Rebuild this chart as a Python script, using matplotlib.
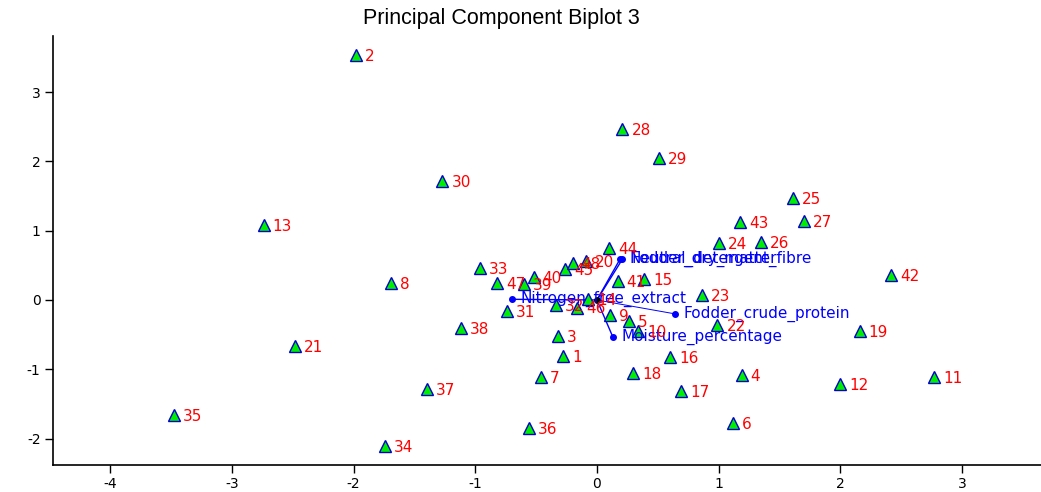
import matplotlib
matplotlib.use('Agg')
import matplotlib.pyplot as plt

plt.rcParams['font.family'] = ['DejaVu Sans']
plt.rcParams['axes.unicode_minus'] = False

# observation scores (PC1, PC2)
obs_labels = [str(i) for i in range(1, 49)]
obs_x = [-0.28, -1.98, -0.32, 1.19, 0.26, 1.12, -0.46, -1.69, 0.11, 0.34,
         2.77, 2.00, -2.74, -0.07, 0.39, 0.60, 0.69, 0.30, 2.16, -0.09,
         -2.48, 0.99, 0.86, 1.00, 1.61, 1.35, 1.70, 0.21, 0.51, -1.27,
         -0.74, -0.34, -0.96, -1.74, -3.48, -0.56, -1.40, -1.12, -0.60, -0.52,
         0.17, 2.42, 1.18, 0.10, -0.26, -0.16, -0.82, -0.20]
obs_y = [-0.81, 3.54, -0.52, -1.08, -0.30, -1.78, -1.11, 0.25, -0.22, -0.45,
         -1.11, -1.21, 1.08, 0.01, 0.30, -0.82, -1.31, -1.05, -0.45, 0.56,
         -0.66, -0.36, 0.07, 0.82, 1.47, 0.84, 1.14, 2.46, 2.05, 1.71,
         -0.16, -0.07, 0.46, -2.11, -1.66, -1.85, -1.29, -0.40, 0.23, 0.33,
         0.27, 0.36, 1.13, 0.75, 0.45, -0.11, 0.24, 0.53]

# variable loadings
var_names = ["Nitrogen_free_extract", "Fodder_crude_protein", "Moisture_percentage",
             "Neutral_detergent_fibre", "Fodder_dry_matter"]
var_x = [-0.70, 0.64, 0.13, 0.19, 0.21]
var_y = [0.01, -0.20, -0.53, 0.59, 0.59]

fig = plt.figure(figsize=(10.41, 4.92), dpi=100)
ax = fig.add_axes([0.051, 0.055, 0.949, 0.872])

# loading vectors
for name, vx, vy in zip(var_names, var_x, var_y):
    lw = 0.7 if name == "Fodder_crude_protein" else 1.0
    ax.plot([0, vx], [0, vy], color='#0000ff', lw=lw, zorder=2)
    ax.plot(vx, vy, 'o', color='#0000ff', ms=4, zorder=3)
    ax.annotate(name, (vx, vy), xytext=(6.5, 0), textcoords='offset points',
                va='center', ha='left', color='#0000ff', fontsize=11, zorder=4)
ax.plot(0, 0, 'o', color='black', ms=4, zorder=3)

# observations
ax.plot(obs_x, obs_y, '^', ms=8, markerfacecolor='#00ee00', markeredgecolor='#0000cc',
        markeredgewidth=1, linestyle='none', zorder=3)
for lab, x, y in zip(obs_labels, obs_x, obs_y):
    ax.annotate(lab, (x, y), xytext=(6.5, -1), textcoords='offset points',
                va='center', ha='left', color='#ff0000', fontsize=11, zorder=4)

ax.set_xlim(-4.47, 3.65)
ax.set_ylim(-2.38, 3.81)
ax.set_xticks([-4, -3, -2, -1, 0, 1, 2, 3])
ax.set_yticks([-2, -1, 0, 1, 2, 3])
ax.spines['top'].set_visible(False)
ax.spines['right'].set_visible(False)
ax.spines['left'].set_linewidth(1.2)
ax.spines['bottom'].set_linewidth(1.2)
ax.tick_params(direction='out', length=6, width=1, labelsize=10, pad=3)

fig.text(0.482, 0.963, "Principal Component Biplot 3", ha='center', va='center',
         fontsize=15.5, family='Liberation Sans')

fig.savefig('out.png', dpi=100)
